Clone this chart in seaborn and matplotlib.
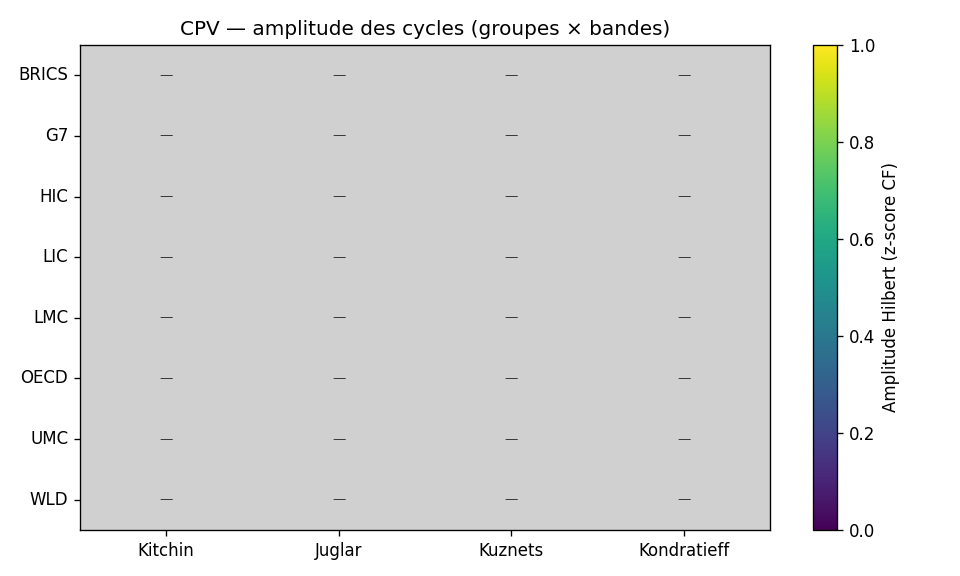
import numpy as np
import pandas as pd
import seaborn as sns
import matplotlib.pyplot as plt

groups = ["BRICS", "G7", "HIC", "LIC", "LMC", "OECD", "UMC", "WLD"]
bands = ["Kitchin", "Juglar", "Kuznets", "Kondratieff"]
# no amplitude available for any group/band -> all missing
amplitude = np.full((len(groups), len(bands)), np.nan)

df = pd.DataFrame(amplitude, index=groups, columns=bands)

fig = plt.figure(figsize=(8, 4.8), dpi=120)
ax = fig.add_axes([0.0833, 0.0799, 0.7188, 0.842])
cax = fig.add_axes([0.847, 0.0799, 0.025, 0.842])

sns.heatmap(df, ax=ax, cbar_ax=cax, cmap="viridis", vmin=0, vmax=1,
            cbar_kws={"label": "Amplitude Hilbert (z-score CF)"})
ax.set_facecolor("#d0d0d0")
for s in ax.spines.values():
    s.set_visible(True)
    s.set_color("black")
    s.set_linewidth(0.8)
cb = ax.collections[0].colorbar
cb.outline.set_linewidth(0.8)
cb.outline.set_edgecolor("black")

# mark missing cells
for i in range(len(groups)):
    for j in range(len(bands)):
        if np.isnan(df.iloc[i, j]):
            ax.text(j + 0.5, i + 0.5, "—", ha="center", va="center",
                    fontsize=8, color="#333333")

ax.set_yticklabels(groups, rotation=0, fontsize=10)
ax.set_xticklabels(bands, rotation=0, fontsize=10)
ax.set_xlabel("")
ax.set_ylabel("")
ax.set_title("CPV — amplitude des cycles (groupes × bandes)", fontsize=12)
cax.tick_params(labelsize=10)
cax.yaxis.label.set_size(10)

plt.savefig("out.png", dpi=120)
